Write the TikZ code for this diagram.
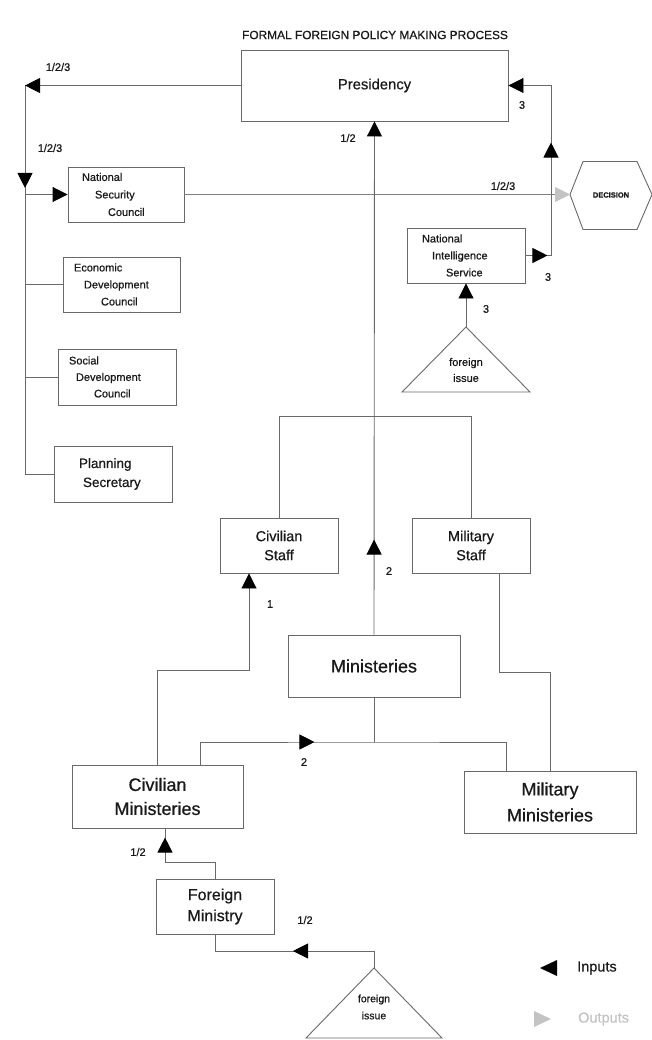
\documentclass[tikz,border=0pt]{standalone}
\usepackage{fontspec}
\setmainfont{Liberation Sans}[RawFeature={embolden=0.6}]
\usetikzlibrary{arrows.meta,decorations.markings,calc}
\definecolor{lc}{RGB}{105,105,105}
\definecolor{tc}{RGB}{25,25,25}
\definecolor{og}{RGB}{195,195,195}
\newcommand{\fs}[2]{\fontsize{#1}{#2}\selectfont}
\tikzset{
  Blk/.tip={Triangle[length=15pt,width=15pt,color=black]},
  Gry/.tip={Triangle[length=15pt,width=15pt,color=og]},
  ln/.style={draw=lc, line width=0.9pt},
  box/.style={draw=lc, line width=0.9pt, rectangle, inner sep=0pt, text=tc},
  txt/.style={inner sep=0pt, text=tc},
  lab/.style={inner sep=0pt, text=tc, font=\fs{11}{13}},
}
\begin{document}
\begin{tikzpicture}[x=1pt,y=-1pt]
\useasboundingbox (0,0) rectangle (652,1040);
\fill[white] (0,0) rectangle (652,1040);

% title
\node[txt, font=\fs{11.9}{14}] (title) at (375,35) {FORMAL FOREIGN POLICY MAKING PROCESS};

% boxes
\node[box, minimum width=267pt, minimum height=71pt, font=\fs{14.8}{18}] (pres) at (374.5,85.5) {Presidency};
\node[box, minimum width=116pt, minimum height=55pt, inner xsep=14pt, text width=88pt, align=left, font=\fs{11}{17.5}] (nsc) at (126,194.5) {National\\\hspace*{13pt}Security\\\hspace*{26pt}Council};
\node[box, minimum width=117pt, minimum height=55pt, inner xsep=11pt, text width=95pt, align=left, font=\fs{11}{17}] (econ) at (121.5,284.5) {Economic\\\hspace*{10pt}Development\\\hspace*{27pt}Council};
\node[box, minimum width=118pt, minimum height=56pt, inner xsep=11pt, text width=96pt, align=left, font=\fs{11}{16.5}] (soc) at (117,377) {Social\\\hspace*{7pt}Development\\\hspace*{25pt}Council};
\node[box, minimum width=118pt, minimum height=56pt, inner xsep=25pt, text width=68pt, align=left, font=\fs{13.5}{19}] (plan) at (113,474) {Planning\\\hspace*{4pt}Secretary};
\node[box, minimum width=118pt, minimum height=55pt, inner xsep=15pt, text width=88pt, align=left, font=\fs{11}{17}] (nis) at (466,255.5) {National\\\hspace*{10pt}Intelligence\\\hspace*{24pt}Service};

\node[box, minimum width=118pt, minimum height=55pt, align=center, font=\fs{14.5}{19}] (cstaff) at (279,545.5) {Civilian\\Staff};
\node[box, minimum width=118pt, minimum height=55pt, align=center, font=\fs{14.5}{19}] (mstaff) at (471,545.5) {Military\\Staff};
\node[box, minimum width=172pt, minimum height=62pt, font=\fs{18}{22}] (mins) at (374,666) {Ministeries};
\node[box, minimum width=171pt, minimum height=63pt, align=center, font=\fs{18}{24}] (cmin) at (157.5,796.5) {Civilian\\Ministeries};
\node[box, minimum width=172pt, minimum height=62pt, align=center, font=\fs{18}{26}] (mmin) at (550,802) {Military\\Ministeries};
\node[box, minimum width=118pt, minimum height=55pt, align=center, font=\fs{16}{21}] (fmin) at (215,906.5) {Foreign\\Ministry};

% decision hexagon
\node[txt, font=\bfseries\fs{7.5}{9}] (dec) at (611,195) {DECISION};
\coordinate (decW) at (570,194.5);
\draw[ln] (decW) -- ++(13,-33) -- ++(54,0) -- ++(15,33) -- ++(-15,35) -- ++(-54,0) -- cycle;

% foreign issue triangles
\coordinate (fiA) at (466,327);
\draw[ln] (fiA) -- (402,392) -- (530,392) -- cycle;
\node[txt, align=center, font=\fs{11}{16}] (fi1) at (466,370) {foreign\\issue};
\coordinate (fbA) at (374,968);
\draw[ln] (fbA) -- (306,1038) -- (442,1038) -- cycle;
\node[txt, align=center, font=\fs{10.5}{17}] (fi2) at (374,1007) {foreign\\issue};

% connectors
\coordinate (cL) at (25,85.5);
\draw[ln, postaction={decorate}, decoration={markings,
   mark=at position 215.5pt with {\arrow{Blk}},
   mark=at position 318pt with {\arrow{Blk}}}]
  (pres.west) -- (cL) -- (cL |- plan.west) -- (plan.west);
\draw[ln, -Blk] (cL |- nsc.west) -- (nsc.west);
\draw[ln] (cL |- econ.west) -- (econ.west);
\draw[ln] (cL |- soc.west) -- (soc.west);

\draw[draw=lc!85, line width=0.9pt, -Gry] (nsc.east) -- (decW);

\draw[ln, -Blk, postaction={decorate}, decoration={markings,
   mark=at position 95pt with {\arrow{Blk}}}]
  (mins.north) -- (pres.south);

\draw[ln] (cstaff.north) -- ++(0,-101) -| (mstaff.north);

\draw[ln, -Blk] (cmin.north) -- ++(0,-94) -| ([xshift=-30pt]cstaff.south);
\draw[ln] ([xshift=28pt]mstaff.south) -- ++(0,99) -| (mmin.north);

\coordinate (mj) at (374,742);
\draw[ln] (mins.south) -- (mj);
\draw[ln, postaction={decorate}, decoration={markings,
   mark=at position 137pt with {\arrow{Blk}}}]
  ([xshift=42.5pt]cmin.north) |- (mj) -| ([xshift=-44pt]mmin.north);

\draw[ln, postaction={decorate}, decoration={markings,
   mark=at position 91pt with {\arrow{Blk}}}]
  (fmin.north) -- ++(0,-16) -| ([xshift=7.5pt]cmin.south);

\draw[ln, postaction={decorate}, decoration={markings,
   mark=at position 98pt with {\arrow{Blk}}}]
  (fbA) -- ++(0,-17) -| (fmin.south);

\draw[ln, -Blk] (fiA) -- (nis.south);

\coordinate (cR) at (551,85.5);
\draw[ln, -Blk, postaction={decorate}, decoration={markings,
   mark=at position 22pt with {\arrow{Blk}},
   mark=at position 138.5pt with {\arrow{Blk}}}]
  (nis.east) -| (cR) -- (pres.east);

% labels
\node[lab] (l1) at (58,67) {1/2/3};
\node[lab] (l2) at (50,148) {1/2/3};
\node[lab] (l3) at (503,186) {1/2/3};
\node[lab] (l4) at (348,138) {1/2};
\node[lab] (l5) at (522,105) {3};
\node[lab] (l6) at (548,277) {3};
\node[lab] (l7) at (486,309) {3};
\node[lab] (l8) at (389,571) {2};
\node[lab] (l9) at (270,604) {1};
\node[lab] (l10) at (304,762) {2};
\node[lab] (l11) at (138,852) {1/2};
\node[lab] (l12) at (305,920) {1/2};

% legend
\fill[black] (540,968) -- (557,960) -- (557,976) -- cycle;
\node[txt, anchor=west, font=\fs{14.5}{17}] (lin) at (577,968) {Inputs};
\fill[og] (551,1019) -- (534,1011) -- (534,1027) -- cycle;
\node[txt, anchor=west, text=og, font=\fs{14.5}{17}] (lout) at (578,1019) {Outputs};
\end{tikzpicture}
\end{document}
